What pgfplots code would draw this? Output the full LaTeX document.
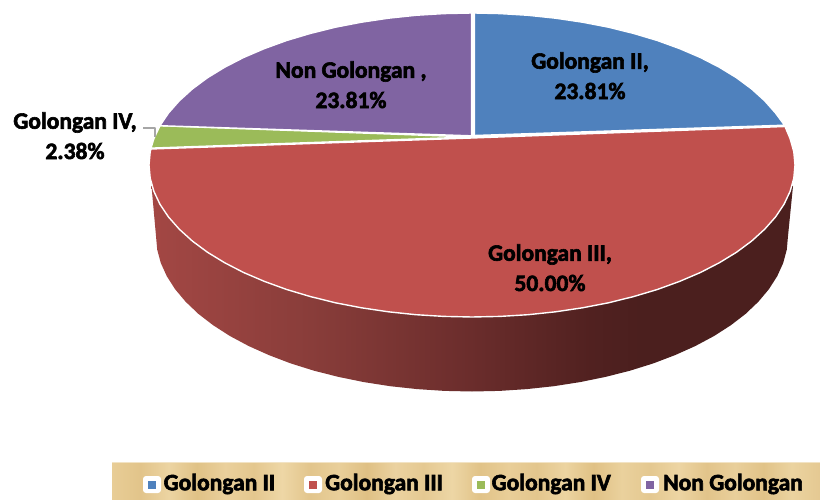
\documentclass[border=0pt]{standalone}
\usepackage{fontspec}
\setmainfont{Carlito}
\newfontface\heavy{Carlito}[UprightFont=* Bold, FakeBold=2.5]
\usepackage{pgfplots}
\pgfplotsset{compat=1.18}
\definecolor{gblue}{HTML}{4F81BD}
\definecolor{gred}{HTML}{C0504D}
\definecolor{ggreen}{HTML}{9BBB59}
\definecolor{gpurple}{HTML}{8064A2}
\definecolor{papyrusedge}{HTML}{F2E3C4}
\tikzset{lbl/.style={font=\heavy\fontsize{23.5}{23.5}\selectfont, text=black, inner sep=0pt, anchor=center}}
\pgfdeclarehorizontalshading{wall}{100bp}{
 color(0bp)=(rgb,255:red,163;green,71;blue,68);
 color(25bp)=(rgb,255:red,163;green,71;blue,68);
 color(37.4bp)=(rgb,255:red,137;green,61;blue,58);
 color(49.8bp)=(rgb,255:red,107;green,45;blue,44);
 color(59.2bp)=(rgb,255:red,81;green,33;blue,32);
 color(63.1bp)=(rgb,255:red,75;green,31;blue,30);
 color(100bp)=(rgb,255:red,75;green,31;blue,30)}
\pgfdeclarehorizontalshading{papyrus}{100bp}{
 color(0bp)=(rgb,255:red,232;green,205;blue,150);
 color(25bp)=(rgb,255:red,232;green,205;blue,150);
 color(27bp)=(rgb,255:red,226;green,196;blue,138);
 color(29bp)=(rgb,255:red,236;green,212;blue,162);
 color(31bp)=(rgb,255:red,224;green,194;blue,134);
 color(33bp)=(rgb,255:red,234;green,208;blue,156);
 color(35bp)=(rgb,255:red,228;green,199;blue,142);
 color(37bp)=(rgb,255:red,238;green,215;blue,166);
 color(39bp)=(rgb,255:red,226;green,197;blue,140);
 color(41bp)=(rgb,255:red,233;green,207;blue,154);
 color(43bp)=(rgb,255:red,223;green,192;blue,132);
 color(45bp)=(rgb,255:red,235;green,210;blue,160);
 color(47bp)=(rgb,255:red,229;green,201;blue,146);
 color(49bp)=(rgb,255:red,237;green,214;blue,165);
 color(51bp)=(rgb,255:red,225;green,195;blue,136);
 color(53bp)=(rgb,255:red,233;green,206;blue,152);
 color(55bp)=(rgb,255:red,227;green,198;blue,141);
 color(57bp)=(rgb,255:red,236;green,212;blue,161);
 color(59bp)=(rgb,255:red,224;green,193;blue,133);
 color(61bp)=(rgb,255:red,234;green,209;blue,157);
 color(63bp)=(rgb,255:red,228;green,200;blue,144);
 color(65bp)=(rgb,255:red,237;green,213;blue,163);
 color(67bp)=(rgb,255:red,226;green,196;blue,138);
 color(69bp)=(rgb,255:red,233;green,207;blue,155);
 color(71bp)=(rgb,255:red,225;green,195;blue,136);
 color(73bp)=(rgb,255:red,235;green,211;blue,160);
 color(75bp)=(rgb,255:red,229;green,201;blue,146);
 color(100bp)=(rgb,255:red,229;green,201;blue,146)}
\begin{document}
\begin{tikzpicture}
\begin{axis}[
  scale only axis, width=820pt, height=500pt,
  xmin=0, xmax=820, ymin=0, ymax=500, y dir=reverse,
  axis lines=none, clip=true, no markers,
  every axis plot/.append style={line join=round},
]
% white page, which also fixes the extent of the picture
\addplot[fill=white, draw=none] coordinates {(0,0)(820,0)(820,500)(0,500)} -- cycle;
% side wall of the pie
\addplot[shade, shading=wall, draw=none] coordinates {
 (151.5,186)(156,236)(157.2,249.6)(160.8,263)(166.8,276.2)(175.1,289.2)(185.6,301.7)(198.3,313.8)(213.1,325.2)(229.9,336)(248.6,346)(268.9,355.1)(290.7,363.4)(314,370.7)(338.5,376.9)(363.9,382.1)(390.2,386.2)(417.1,389.1)(444.5,390.9)(472,391.5)
 (499.5,390.9)(526.9,389.1)(553.8,386.2)(580.1,382.1)(605.5,376.9)(630,370.7)(653.3,363.4)(675.1,355.1)(695.4,346)(714.1,336)(730.9,325.2)(745.7,313.8)(758.4,301.7)(768.9,289.2)(777.2,276.2)(783.2,263)(786.8,249.6)(788,236)(793,186)
} -- cycle;
% Golongan IV
\addplot[fill=ggreen, draw=white, line width=1.4pt] coordinates {
 (472,137)(160,125.7)(153.9,138.6)(151,148.1)
} -- cycle;
% Non Golongan
\addplot[fill=gpurple, draw=white, line width=1.4pt] coordinates {
 (471.5,135.8)(471.5,13)(443.8,13.6)(415.9,15.3)(388.4,18.2)(361.5,22.2)(335.5,27.2)(310.5,33.4)(286.7,40.5)(264.4,48.6)(243.6,57.5)(224.6,67.3)(207.4,77.8)(192.3,89)(179.3,100.8)(168.5,113)(160,125.7)
} -- cycle;
% Golongan II
\addplot[fill=gblue, draw=white, line width=1.4pt] coordinates {
 (474.5,135.5)(474.5,13)(500.2,13.6)(528.1,15.3)(555.6,18.2)(582.5,22.2)(608.5,27.2)(633.5,33.4)(657.3,40.5)(679.6,48.6)(700.4,57.5)(719.4,67.3)(736.6,77.8)(751.7,89)(764.7,100.8)(775.5,113)(784.5,125.2)
} -- cycle;
% Golongan III
\addplot[fill=gred, draw=white, line width=1.4pt] coordinates {
 (472,138)(151,149)(150.2,151.7)(149,165)(150.2,178.3)(153.9,191.4)(160,204.3)(168.5,217)(179.3,229.2)(192.3,241)(207.4,252.2)(224.6,262.7)(243.6,272.5)(264.4,281.4)(286.7,289.5)(310.5,296.6)(335.5,302.8)(361.5,307.8)(388.4,311.8)(415.9,314.7)(443.8,316.4)(472,317)
 (500.2,316.4)(528.1,314.7)(555.6,311.8)(582.5,307.8)(608.5,302.8)(633.5,296.6)(657.3,289.5)(679.6,281.4)(700.4,272.5)(719.4,262.7)(736.6,252.2)(751.7,241)(764.7,229.2)(775.5,217)(784,204.3)(790.1,191.4)(793.8,178.3)(795,165)(793.8,151.7)(790.1,138.6)(785,126.5)
} -- cycle;
% leader line
\addplot[draw=black!35, line width=1.3pt] coordinates {(143,128)(155,128)(155,137)};
% legend background
\addplot[shade, shading=papyrus, draw=none] coordinates {(112,462)(820,462)(820,500)(112,500)} -- cycle;
\addplot[draw=papyrusedge, line width=1pt] coordinates {(112,462.5)(820,462.5)};
% legend keys
\addplot[fill=white, draw=none, rounded corners=3pt] coordinates {(143,476)(161,476)(161,493)(143,493)} -- cycle;
\addplot[fill=white, draw=none, rounded corners=3pt] coordinates {(304,476)(322,476)(322,493)(304,493)} -- cycle;
\addplot[fill=white, draw=none, rounded corners=3pt] coordinates {(472,476)(490,476)(490,493)(472,493)} -- cycle;
\addplot[fill=white, draw=none, rounded corners=3pt] coordinates {(641,476)(659,476)(659,493)(641,493)} -- cycle;
\addplot[fill=gblue, draw=none] coordinates {(148,480.5)(156,480.5)(156,488.5)(148,488.5)} -- cycle;
\addplot[fill=gred, draw=none] coordinates {(309,480.5)(317,480.5)(317,488.5)(309,488.5)} -- cycle;
\addplot[fill=ggreen, draw=none] coordinates {(477,480.5)(485,480.5)(485,488.5)(477,488.5)} -- cycle;
\addplot[fill=gpurple, draw=none] coordinates {(646,480.5)(654,480.5)(654,488.5)(646,488.5)} -- cycle;
% legend texts
\node[lbl, anchor=west] at (axis cs:163.5,484) {Golongan II};
\node[lbl, anchor=west] at (axis cs:325,484) {Golongan III};
\node[lbl, anchor=west] at (axis cs:491.5,484) {Golongan IV};
\node[lbl, anchor=west] at (axis cs:663,484) {Non Golongan};
% data labels
\node[lbl] at (axis cs:590,62.5) {Golongan II,};
\node[lbl] at (axis cs:590,91) {23.81\%};
\node[lbl] at (axis cs:351,71.5) {Non Golongan ,};
\node[lbl] at (axis cs:351,100) {23.81\%};
\node[lbl] at (axis cs:550,254.5) {Golongan III,};
\node[lbl] at (axis cs:550,283) {50.00\%};
\node[lbl] at (axis cs:75,122.5) {Golongan IV,};
\node[lbl] at (axis cs:75,151) {2.38\%};
\end{axis}
\end{tikzpicture}
\end{document}
